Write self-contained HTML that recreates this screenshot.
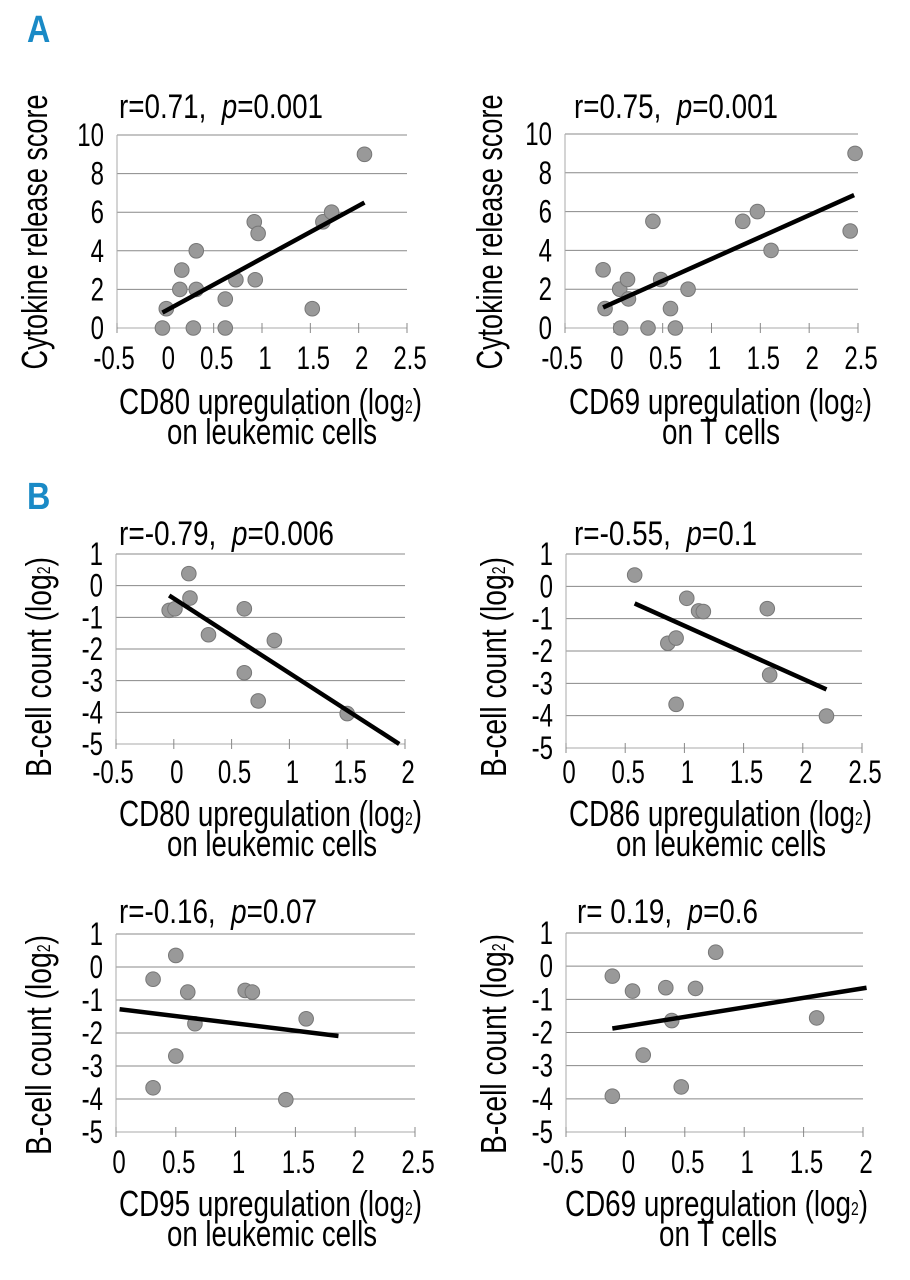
<!DOCTYPE html>
<html><head><meta charset="utf-8">
<style>
html,body{margin:0;padding:0;background:#fff;}
svg{display:block;font-family:"Liberation Sans",sans-serif;}
</style></head>
<body>
<svg id="fig" width="910" height="1280" viewBox="0 0 910 1280" xmlns="http://www.w3.org/2000/svg">
<rect width="910" height="1280" fill="#fff"/>
<text x="27" y="42" font-size="38" font-weight="bold" fill="#1a8ac6" transform="translate(27,42) scale(0.85,1) translate(-27,-42)">A</text>
<text x="27" y="509" font-size="38" font-weight="bold" fill="#1a8ac6" transform="translate(27,509) scale(0.85,1) translate(-27,-509)">B</text>
</svg>
<script>
// ---- Chart A1 data ----
const a1X = [-0.03,0.01,0.15,0.17,0.32,0.32,0.29,0.62,0.62,0.73,0.92,0.96,0.93,1.52,1.63,1.72,2.06];
const a1Y = [0,1,2,3,4,2,0,0,1.5,2.5,5.5,4.9,2.5,1,5.5,6,9];
const a1TrendX = [-0.03,2.06];
const a1TrendY = [0.8,6.5];
const a1XTicks = ["-0.5","0","0.5","1","1.5","2","2.5"];
const a1YTicks = ["0","2","4","6","8","10"];
// ---- Chart A2 data ----
const a2X = [-0.11,-0.09,0.06,0.14,0.15,0.07,0.35,0.40,0.48,0.58,0.63,0.76,1.32,1.47,1.61,2.42,2.47];
const a2Y = [3,1,2,2.5,1.5,0,0,5.5,2.5,1,0,2,5.5,6,4,5,9];
const a2TrendX = [-0.11,2.46];
const a2TrendY = [1.06,6.85];
const a2XTicks = ["-0.5","0","0.5","1","1.5","2","2.5"];
const a2YTicks = ["0","2","4","6","8","10"];
// ---- Chart B1 data ----
const b1X = [-0.04,0.01,0.13,0.14,0.30,0.61,0.61,0.87,0.73,1.50];
const b1Y = [-0.78,-0.73,0.38,-0.39,-1.55,-0.73,-2.75,-1.73,-3.64,-4.04];
const b1TrendX = [-0.04,1.95];
const b1TrendY = [-0.31,-5.0];
const b1XTicks = ["-0.5","0","0.5","1","1.5","2"];
const b1YTicks = ["-5","-4","-3","-2","-1","0","1"];
// ---- Chart B2 data ----
const b2X = [0.58,1.02,1.12,1.16,0.86,0.93,0.93,1.70,1.72,2.20];
const b2Y = [0.35,-0.37,-0.76,-0.78,-1.76,-1.6,-3.65,-0.69,-2.74,-4.01];
const b2TrendX = [0.58,2.2];
const b2TrendY = [-0.53,-3.19];
const b2XTicks = ["0","0.5","1","1.5","2","2.5"];
const b2YTicks = ["-5","-4","-3","-2","-1","0","1"];
// ---- Chart B3 data ----
const b3X = [0.31,0.50,0.60,0.66,0.50,0.31,1.08,1.14,1.59,1.42];
const b3Y = [-0.37,0.35,-0.76,-1.72,-2.70,-3.66,-0.71,-0.76,-1.57,-4.02];
const b3TrendX = [0.03,1.86];
const b3TrendY = [-1.28,-2.09];
const b3XTicks = ["0","0.5","1","1.5","2","2.5"];
const b3YTicks = ["-5","-4","-3","-2","-1","0","1"];
// ---- Chart B4 data ----
const b4X = [-0.11,0.06,0.15,-0.11,0.34,0.39,0.59,0.76,0.47,1.61];
const b4Y = [-0.30,-0.75,-2.68,-3.92,-0.65,-1.64,-0.67,0.42,-3.64,-1.56];
const b4TrendX = [-0.11,2.03];
const b4TrendY = [-1.88,-0.65];
const b4XTicks = ["-0.5","0","0.5","1","1.5","2"];
const b4YTicks = ["-5","-4","-3","-2","-1","0","1"];

const NS = "http://www.w3.org/2000/svg";
const svg = document.getElementById("fig");
function mk(tag, attrs, parent){
  const e = document.createElementNS(NS, tag);
  for (const k in attrs) e.setAttribute(k, attrs[k]);
  (parent||svg).appendChild(e);
  return e;
}
function ctext(x, y, str, size, anchor, sx, parent){
  const t = mk("text", {x:0, y:0, "font-size":size, "text-anchor":anchor, fill:"#000",
    transform:"translate("+x+","+y+") scale("+sx+",1)"}, parent);
  t.textContent = str;
  return t;
}
function chart(id, c){
  const g = mk("g", {});
  
  
  const xmin = parseFloat(c.xt[0]), xmax = parseFloat(c.xt[c.xt.length-1]);
  const ymin = parseFloat(c.yt[0]), ymax = parseFloat(c.yt[c.yt.length-1]);
  const sx = v => c.L + (v - xmin) / (xmax - xmin) * (c.R - c.L);
  const sy = v => c.B - (v - ymin) / (ymax - ymin) * (c.B - c.T);
  c.yt.forEach((lab, i) => {
    const v = parseFloat(lab);
    const ln = mk("line", {x1:c.L, x2:c.R, y1:sy(v), y2:sy(v), stroke: i===0 ? "#aaa" : "#888", "stroke-width":1}, g);
    
    
    const t = ctext(c.L - 13, sy(v) + 11, lab, 32, "end", 0.75, g);
    
    
  });
  const ya = mk("line", {x1:c.L, x2:c.L, y1:c.T, y2:c.B + 5, stroke:"#aaa", "stroke-width":1}, g);
  
  
  c.xt.forEach(lab => {
    const v = parseFloat(lab);
    const tk = mk("line", {x1:sx(v), x2:sx(v), y1:c.B - 5, y2:c.B + 5, stroke:"#888", "stroke-width":1}, g);
    
    
    const t = ctext(sx(v) + (v < 0 ? -3 : 3), c.xlY, lab, 32, "middle", 0.75, g);
    
    
  });
  c.xs.forEach((xv, i) => {
    const p = mk("circle", {cx:sx(xv), cy:sy(c.ys[i]), r:7.3, fill:"#999", stroke:"#777", "stroke-width":1}, g);
    
    
  });
  const tr = mk("line", {x1:sx(c.tx[0]), y1:sy(c.ty[0]), x2:sx(c.tx[1]), y2:sy(c.ty[1]), stroke:"#000", "stroke-width":4.5}, g);
  
  
  const tt = mk("text", {x:c.tl, y:c.tb, "font-size":34, fill:"#000", textLength:c.tw, lengthAdjust:"spacingAndGlyphs"}, g);
  
  
  tt.innerHTML = c.title;
  const yt = mk("text", {x:0, y:0, "font-size":36, fill:"#000", "text-anchor":"middle",
    textLength:c.ytw, lengthAdjust:"spacingAndGlyphs",
    transform:"translate("+c.ytx+","+c.yty+") rotate(-90)"}, g);
  
  
  yt.innerHTML = c.ytitle;
  const xt1 = mk("text", {x:c.x1l, y:c.x1b, "font-size":36, fill:"#000", textLength:c.x1w, lengthAdjust:"spacingAndGlyphs"}, g);
  
  
  xt1.innerHTML = c.xtitle1;
  const xt2 = mk("text", {x:c.x2c, y:c.x1b + 30, "font-size":36, fill:"#000", "text-anchor":"middle", textLength:c.x2w, lengthAdjust:"spacingAndGlyphs"}, g);
  
  
  xt2.textContent = c.xtitle2;
}
const logsub = '(log<tspan font-size="18" dy="-1">2</tspan><tspan dy="1">)</tspan>';
chart("a1", {xs:a1X, ys:a1Y, tx:a1TrendX, ty:a1TrendY, xt:a1XTicks, yt:a1YTicks,
  L:117, R:407, T:135, B:328, xlY:369,
  title:'r=0.71,&#160; <tspan font-style="italic">p</tspan>=0.001', tl:119, tb:118, tw:204,
  ytitle:'Cytokine release score', ytx:47, yty:232, ytw:275,
  xtitle1:'CD80 upregulation '+logsub, x1l:119, x1b:414, x1w:303,
  xtitle2:'on leukemic cells', x2c:272, x2w:210});
chart("a2", {xs:a2X, ys:a2Y, tx:a2TrendX, ty:a2TrendY, xt:a2XTicks, yt:a2YTicks,
  L:565, R:858, T:134, B:328, xlY:369,
  title:'r=0.75,&#160; <tspan font-style="italic">p</tspan>=0.001', tl:574, tb:118, tw:204,
  ytitle:'Cytokine release score', ytx:502, yty:232, ytw:275,
  xtitle1:'CD69 upregulation '+logsub, x1l:569, x1b:414, x1w:303,
  xtitle2:'on T cells', x2c:721, x2w:118});
chart("b1", {xs:b1X, ys:b1Y, tx:b1TrendX, ty:b1TrendY, xt:b1XTicks, yt:b1YTicks,
  L:116, R:405, T:554, B:744, xlY:783,
  title:'r=-0.79,&#160; <tspan font-style="italic">p</tspan>=0.006', tl:119, tb:545, tw:215,
  ytitle:'B-cell count '+logsub, ytx:51, yty:667, ytw:220,
  xtitle1:'CD80 upregulation '+logsub, x1l:119, x1b:826, x1w:303,
  xtitle2:'on leukemic cells', x2c:272, x2w:210});
chart("b2", {xs:b2X, ys:b2Y, tx:b2TrendX, ty:b2TrendY, xt:b2XTicks, yt:b2YTicks,
  L:566, R:862, T:554, B:748, xlY:783,
  title:'r=-0.55,&#160; <tspan font-style="italic">p</tspan>=0.1', tl:574, tb:545, tw:183,
  ytitle:'B-cell count '+logsub, ytx:506, yty:667, ytw:220,
  xtitle1:'CD86 upregulation '+logsub, x1l:569, x1b:826, x1w:303,
  xtitle2:'on leukemic cells', x2c:721, x2w:210});
chart("b3", {xs:b3X, ys:b3Y, tx:b3TrendX, ty:b3TrendY, xt:b3XTicks, yt:b3YTicks,
  L:116, R:415, T:934, B:1132, xlY:1173,
  title:'r=-0.16,&#160; <tspan font-style="italic">p</tspan>=0.07', tl:119, tb:923, tw:198,
  ytitle:'B-cell count '+logsub, ytx:51, yty:1045, ytw:220,
  xtitle1:'CD95 upregulation '+logsub, x1l:119, x1b:1216, x1w:303,
  xtitle2:'on leukemic cells', x2c:272, x2w:210});
chart("b4", {xs:b4X, ys:b4Y, tx:b4TrendX, ty:b4TrendY, xt:b4XTicks, yt:b4YTicks,
  L:566, R:863, T:933, B:1132, xlY:1173,
  title:'r= 0.19,&#160; <tspan font-style="italic">p</tspan>=0.6', tl:577, tb:923, tw:181,
  ytitle:'B-cell count '+logsub, ytx:506, yty:1044, ytw:220,
  xtitle1:'CD69 upregulation '+logsub, x1l:565, x1b:1216, x1w:303,
  xtitle2:'on T cells', x2c:718, x2w:118});
</script>
</body></html>
